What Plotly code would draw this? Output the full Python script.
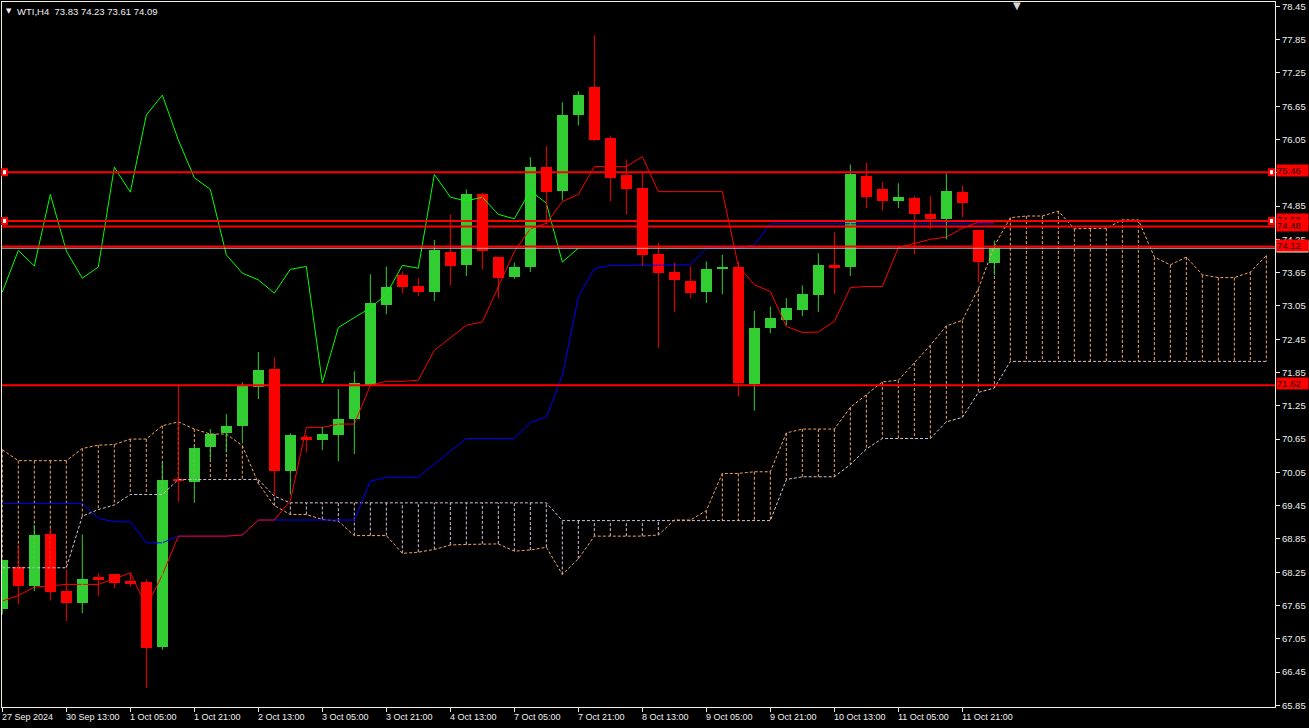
import plotly.graph_objects as go

# WTI H4 candles (bar 0 = 27 Sep 21:00)
opens = [67.58, 68.34, 68.00, 68.93, 67.91, 67.70, 68.15, 68.21, 68.09, 68.07,
         66.90, 69.93, 69.88, 70.51, 70.76, 70.89, 71.59, 71.91, 70.07, 70.68,
         70.63, 70.72, 71.01, 71.63, 73.07, 73.61, 73.41, 73.30, 74.03, 73.79,
         75.06, 73.94, 73.57, 73.75, 75.55, 75.12, 76.49, 77.00, 76.07, 75.41,
         75.17, 73.98, 73.66, 73.49, 73.30, 73.72, 73.76, 71.65, 72.65, 72.80,
         72.98, 73.25, 73.78, 73.75, 75.40, 75.15, 74.94, 74.99, 74.70, 74.62,
         75.10, 74.41, 73.83]
highs = [68.47, 68.74, 69.10, 69.04, 68.30, 68.93, 68.23, 68.21, 68.24, 68.12,
         70.23, 71.64, 70.54, 70.83, 71.10, 71.67, 72.22, 72.12, 70.75, 70.72,
         70.87, 71.55, 71.87, 73.62, 73.76, 73.67, 73.55, 74.24, 74.70, 75.15,
         75.09, 73.94, 73.83, 75.73, 75.93, 76.72, 76.92, 77.93, 76.12, 75.69,
         75.46, 74.19, 73.83, 73.76, 73.85, 73.97, 73.84, 72.96, 73.04, 73.19,
         73.42, 74.00, 74.38, 75.60, 75.63, 75.28, 75.26, 75.03, 75.03, 75.44,
         75.22, 74.41, 74.23]
lows = [67.49, 67.67, 67.91, 67.74, 67.37, 67.51, 67.82, 67.96, 67.99, 66.16,
        66.85, 69.52, 69.50, 70.29, 70.41, 70.57, 71.37, 69.62, 69.65, 70.41,
        70.45, 70.25, 70.38, 71.63, 72.90, 73.28, 73.23, 73.14, 73.42, 73.59,
        73.71, 73.19, 73.54, 73.66, 74.52, 74.95, 76.30, 76.02, 74.94, 74.70,
        73.77, 72.29, 72.94, 73.19, 73.10, 73.26, 71.42, 71.16, 72.56, 72.70,
        72.87, 72.94, 73.26, 73.59, 74.81, 74.77, 74.81, 73.98, 74.43, 74.25,
        74.65, 73.48, 73.61]
closes = [68.47, 68.01, 68.92, 67.89, 67.70, 68.12, 68.12, 68.06, 68.04, 66.88,
          69.91, 69.90, 70.48, 70.75, 70.88, 71.60, 71.89, 70.07, 70.72, 70.63,
          70.75, 71.02, 71.66, 73.10, 73.39, 73.39, 73.30, 74.05, 73.77, 75.06,
          74.04, 73.55, 73.75, 75.55, 75.10, 76.49, 76.85, 76.04, 75.36, 75.15,
          73.97, 73.64, 73.52, 73.28, 73.71, 73.76, 71.66, 72.66, 72.84, 73.01,
          73.26, 73.78, 73.73, 75.42, 75.01, 74.94, 75.01, 74.70, 74.62, 75.13,
          74.90, 73.84, 74.09]

# Ichimoku lines
tenkan = [67.73, 67.83, 67.98, 68.00, 68.03, 68.03, 68.03, 68.13, 68.24, 67.63,
          68.20, 68.90, 68.90, 68.90, 68.90, 68.92, 69.19, 69.19, 69.54, 70.86,
          70.86, 70.92, 70.92, 71.62, 71.69, 71.69, 71.71, 72.25, 72.48, 72.70,
          72.76, 73.39, 74.03, 74.44, 74.54, 74.93, 75.06, 75.56, 75.56, 75.56,
          75.74, 75.11, 75.11, 75.11, 75.11, 75.11, 73.77, 73.43, 73.31, 72.68,
          72.57, 72.58, 72.77, 73.38, 73.40, 73.40, 74.10, 74.17, 74.25, 74.29,
          74.45, 74.56, 74.56]
kijun = [69.49, 69.49, 69.49, 69.49, 69.49, 69.49, 69.22, 69.16, 69.16, 68.78,
         68.78, 68.90, 68.90, 68.90, 68.90, 68.92, 69.19, 69.19, 69.19, 69.19,
         69.19, 69.19, 69.19, 69.89, 69.96, 69.96, 69.96, 70.20, 70.43, 70.66,
         70.66, 70.66, 70.66, 70.95, 71.05, 71.79, 73.21, 73.72, 73.78, 73.78,
         73.78, 73.78, 73.78, 73.79, 74.09, 74.09, 74.09, 74.15, 74.53, 74.53,
         74.53, 74.53, 74.53, 74.53, 74.53, 74.53, 74.53, 74.53, 74.53, 74.53,
         74.53, 74.53, 74.53]
span_a = [70.46, 70.26, 70.26, 70.26, 70.26, 70.48, 70.54, 70.55, 70.65, 70.65,
          70.89, 70.96, 70.83, 70.74, 70.74, 70.53, 69.85, 69.45, 69.29, 69.29,
          69.20, 69.17, 68.91, 68.91, 68.91, 68.59, 68.61, 68.66, 68.74, 68.75,
          68.76, 68.76, 68.63, 68.65, 68.70, 68.21, 68.49, 68.90, 68.90, 68.90,
          68.90, 68.92, 69.19, 69.19, 69.36, 70.03, 70.03, 70.06, 70.06, 70.76,
          70.83, 70.83, 70.83, 71.22, 71.45, 71.68, 71.71, 72.02, 72.34, 72.69,
          72.79, 73.36, 74.13, 74.64, 74.67, 74.67, 74.76, 74.44, 74.44, 74.45,
          74.60, 74.60, 73.93, 73.79, 73.93, 73.61, 73.56, 73.56, 73.66, 73.96]
span_b = [68.33, 68.33, 68.33, 68.33, 68.33, 69.26, 69.38, 69.46, 69.65, 69.65,
          69.65, 69.92, 69.92, 69.92, 69.92, 69.92, 69.92, 69.62, 69.50, 69.50,
          69.50, 69.50, 69.50, 69.50, 69.50, 69.50, 69.50, 69.50, 69.50, 69.50,
          69.50, 69.50, 69.50, 69.50, 69.50, 69.18, 69.18, 69.18, 69.18, 69.18,
          69.18, 69.18, 69.18, 69.18, 69.18, 69.18, 69.18, 69.18, 69.18, 69.92,
          69.97, 69.97, 69.97, 70.19, 70.47, 70.66, 70.66, 70.66, 70.66, 70.96,
          71.04, 71.49, 71.57, 72.05, 72.05, 72.05, 72.05, 72.05, 72.05, 72.05,
          72.05, 72.05, 72.05, 72.05, 72.05, 72.05, 72.05, 72.05, 72.05, 72.05]

h_levels = [75.46, 74.58, 74.48, 74.12, 71.62]
handle_levels = [75.46, 74.58]
bid = 74.09

y_ticks = [78.45, 77.85, 77.25, 76.65, 76.05, 75.45, 74.85, 74.25, 73.65, 73.05,
           72.45, 71.85, 71.25, 70.65, 70.05, 69.45, 68.85, 68.25, 67.65, 67.05,
           66.45, 65.85]
x_tick_bars = [0, 4, 8, 12, 16, 20, 24, 28, 32, 36, 40, 44, 48, 52, 56, 60]
x_tick_text = ["27 Sep 2024", "30 Sep 13:00", "1 Oct 05:00", "1 Oct 21:00",
               "2 Oct 13:00", "3 Oct 05:00", "3 Oct 21:00", "4 Oct 13:00",
               "7 Oct 05:00", "7 Oct 21:00", "8 Oct 13:00", "9 Oct 05:00",
               "9 Oct 21:00", "10 Oct 13:00", "11 Oct 05:00", "11 Oct 21:00"]

BULL = '#32CD32'
BEAR = '#FF0000'
FRAME = '#F0F0E0'
TXT = '#F0F0F0'
SANDY = '#F4A460'
THISTLE = '#D8BFD8'
FONT = 'Liberation Sans'

bars = list(range(len(closes)))
cloud_bars = list(range(len(span_a)))

fig = go.Figure()

# cloud hatching: vertical dotted strokes between span A and span B
hx = {SANDY: [], THISTLE: []}
hy = {SANDY: [], THISTLE: []}
for j in cloud_bars:
    col = SANDY if span_a[j] >= span_b[j] else THISTLE
    hx[col] += [j, j, None]
    hy[col] += [span_a[j], span_b[j], None]
for col in (THISTLE, SANDY):
    fig.add_trace(go.Scatter(x=hx[col], y=hy[col], mode='lines',
                             line=dict(color=col, width=1, dash='3px,2px'),
                             hoverinfo='skip'))

fig.add_trace(go.Scatter(x=cloud_bars, y=span_b, mode='lines',
                         line=dict(color=THISTLE, width=1, dash='3px,2px')))
fig.add_trace(go.Scatter(x=cloud_bars, y=span_a, mode='lines',
                         line=dict(color=SANDY, width=1, dash='3px,2px')))

# chikou = closes shifted back 26 bars
chikou = closes[26:]
fig.add_trace(go.Scatter(x=bars[:len(chikou)], y=chikou, mode='lines',
                         line=dict(color='#00FF00', width=1)))
fig.add_trace(go.Scatter(x=bars, y=kijun, mode='lines',
                         line=dict(color='#0000FF', width=1)))
fig.add_trace(go.Scatter(x=bars, y=tenkan, mode='lines',
                         line=dict(color='#FF0000', width=1)))

# candles: wicks + bodies
for col, up in ((BULL, True), (BEAR, False)):
    wx, wy, bx, bbase, bh = [], [], [], [], []
    for i in bars:
        if (closes[i] >= opens[i]) != up:
            continue
        wx += [i, i, None]
        wy += [lows[i], highs[i], None]
        bx.append(i)
        bbase.append(min(opens[i], closes[i]))
        bh.append(max(abs(closes[i] - opens[i]), 0.035))
    fig.add_trace(go.Scatter(x=wx, y=wy, mode='lines',
                             line=dict(color=col, width=1), hoverinfo='skip'))
    fig.add_trace(go.Bar(x=bx, y=bh, base=bbase, width=0.68,
                         marker=dict(color=col, line=dict(width=0))))

shapes = []
shapes.append(dict(type='line', xref='paper', x0=0, x1=1, yref='y', y0=bid, y1=bid,
                   line=dict(color='#C0C0C0', width=1), layer='above'))
for lv in h_levels:
    shapes.append(dict(type='line', xref='paper', x0=0, x1=1, yref='y', y0=lv, y1=lv,
                       line=dict(color='#FF0000', width=2), layer='above'))
for lv in handle_levels:
    for anchor, px0, px1 in ((0, 0, 5), (1, -6, -1)):
        shapes.append(dict(type='rect', xref='paper', yref='y',
                           xsizemode='pixel', ysizemode='pixel',
                           xanchor=anchor, yanchor=lv,
                           x0=px0, x1=px1, y0=-3, y1=3,
                           fillcolor='#FFFFFF', line=dict(color='#FF0000', width=2),
                           layer='above'))

annotations = []
for tb, tt in zip(x_tick_bars, x_tick_text):
    annotations.append(dict(x=tb, xref='x', y=0, yref='paper', yanchor='top',
                            xanchor='left', xshift=-2, yshift=-3, text=tt,
                            showarrow=False,
                            font=dict(family=FONT, size=9, color=TXT)))

annotations.append(dict(x=0, xref='paper', y=1, yref='paper', xanchor='left',
                        yanchor='top', xshift=2, yshift=-3, text='▼', showarrow=False,
                        font=dict(family='DejaVu Sans', size=7, color=TXT)))
annotations.append(dict(x=0, xref='paper', y=1, yref='paper', xanchor='left',
                        yanchor='top', xshift=13, yshift=-2,
                        text='WTI,H4\u00a0 73.83 74.23 73.61 74.09', showarrow=False,
                        font=dict(family=FONT, size=9.5, color=TXT)))
annotations.append(dict(x=0.7975, xref='paper', y=1, yref='paper', xanchor='center',
                        yanchor='top', yshift=4, text='▼', showarrow=False,
                        font=dict(family='DejaVu Sans', size=10, color='#D8D8D8')))

# price labels on the right scale
annotations.append(dict(x=1, xref='paper', y=bid, yref='y', xanchor='left',
                        yanchor='middle', xshift=1, yshift=2, text=f'{bid:.2f}',
                        showarrow=False, bgcolor='#F5F0DC', borderpad=0,
                        width=31, height=11, align='left',
                        font=dict(family=FONT, size=9.5, color='#000000')))
for lv in h_levels:
    annotations.append(dict(x=1, xref='paper', y=lv, yref='y', xanchor='left',
                            yanchor='middle', xshift=1, yshift=1.5, text=f'{lv:.2f}',
                            showarrow=False, bgcolor='#FF0000', borderpad=0,
                            width=31, height=11, align='left',
                            font=dict(family=FONT, size=9.5, color='#1A0000')))

fig.update_layout(
    width=1309, height=728,
    margin=dict(l=2, r=34, t=2, b=21),
    paper_bgcolor='#000000', plot_bgcolor='#000000',
    showlegend=False, barmode='overlay', bargap=0,
    shapes=shapes, annotations=annotations,
    xaxis=dict(range=[-0.02, 79.54], showgrid=False, zeroline=False,
               showline=True, mirror=True, linecolor=FRAME, linewidth=1,
               ticks='outside', ticklen=4, tickcolor=FRAME,
               tickvals=x_tick_bars, showticklabels=False, fixedrange=True),
    yaxis=dict(side='right', range=[65.82, 78.528], showgrid=False, zeroline=False,
               showline=True, mirror=True, linecolor=FRAME, linewidth=1,
               ticks='outside', ticklen=4, tickcolor=FRAME,
               tickvals=y_ticks, ticktext=[f'{v:.2f}' for v in y_ticks],
               tickfont=dict(family=FONT, size=9.5, color=TXT), fixedrange=True),
)

# the page body has a default margin; drop it so the chart fills the window
fig.write_html("out.html", config={'displayModeBar': False},
               post_script="document.body.style.margin='0';"
                           "document.body.style.background='#000';")
